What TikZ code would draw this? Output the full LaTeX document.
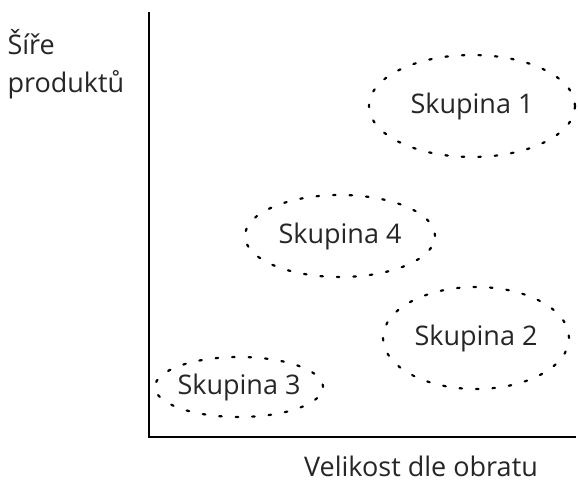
\documentclass[tikz,border=0pt]{standalone}
\usepackage{fontspec}
\setmainfont{Open Sans}
\usetikzlibrary{shapes.geometric}
\begin{document}
\begin{tikzpicture}[x=1pt,y=-1pt,
  axis/.style={line width=2pt},
  grp/.style={draw, ellipse, line width=2.2pt, line cap=round,
    dash pattern=on 2.5pt off 14pt, inner sep=0pt},
  lbl/.style={font=\fontsize{27}{38}\selectfont, text=black!85}]
\useasboundingbox (0,0) rectangle (578,484);
% axes
\coordinate (top) at (149,12);
\coordinate (origin) at (149,437);
\coordinate (right) at (576,437);
\draw[axis] (top) -- (origin) -- (right);
% groups
\node[grp, minimum width=206, minimum height=102] (g1) at (472,106) {};
\node[lbl] (t1) at (g1) {Skupina 1};
\node[grp, minimum width=190, minimum height=82] (g4) at (340,236) {};
\node[lbl] (t4) at (g4) {Skupina 4};
\node[grp, minimum width=186, minimum height=102] (g2) at (476,338) {};
\node[lbl] (t2) at (g2) {Skupina 2};
\node[grp, minimum width=168, minimum height=60] (g3) at (239,387) {};
\node[lbl] (t3) at (g3) {Skupina 3};
% axis titles
\node[lbl, anchor=west, align=left] (ylab) at (4,64) {Šíře\\produktů};
\node[lbl, inner sep=0pt] (xlab) at (421,466) {Velikost dle obratu};
\end{tikzpicture}
\end{document}
